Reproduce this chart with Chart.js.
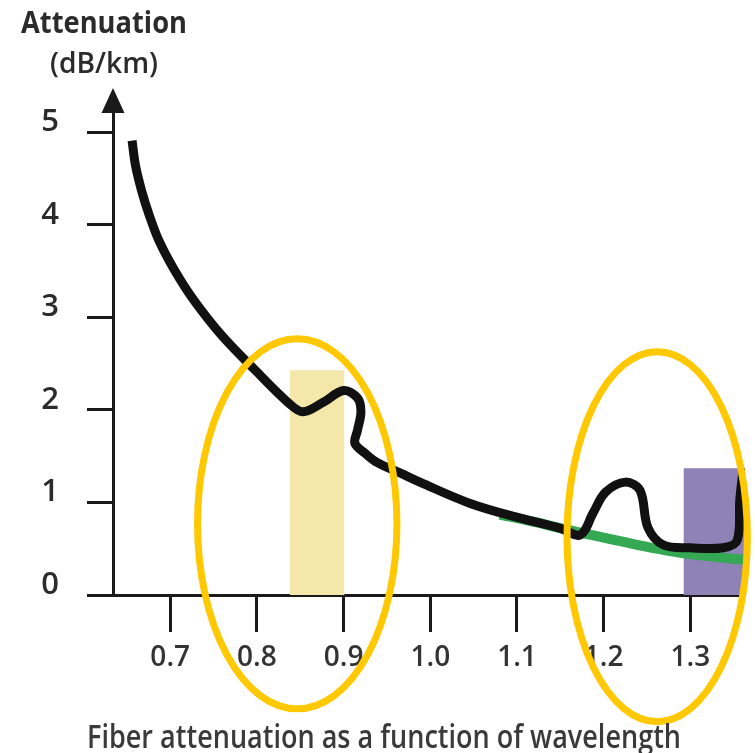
<!DOCTYPE html>
<html lang="en">
<head>
<meta charset="UTF-8">
<title>Fiber attenuation</title>
<script src="https://cdn.jsdelivr.net/npm/chart.js@4.4.1/dist/chart.umd.min.js"></script>
<style>
    html, body { margin: 0; padding: 0; background: #fff; }
    #wrap { width: 755px; height: 753px; position: relative; }
</style>
</head>
<body>
<div id="wrap"><canvas id="chart"></canvas></div>
<script>
// measured fiber curve (black)
const wavelength  = [0.656, 0.660, 0.667, 0.676, 0.687, 0.705, 0.727, 0.759, 0.798, 0.836, 0.853, 0.876, 0.900, 0.916, 0.920, 0.916, 0.913, 0.925, 0.939, 0.965, 0.988, 1.046, 1.104, 1.150, 1.173, 1.188, 1.202, 1.225, 1.242, 1.251, 1.269, 1.300, 1.338, 1.354, 1.357, 1.361];
const attenuation = [4.91, 4.64, 4.37, 4.10, 3.83, 3.51, 3.19, 2.81, 2.43, 2.08, 1.98, 2.08, 2.21, 2.13, 1.98, 1.78, 1.64, 1.53, 1.43, 1.32, 1.22, 0.99, 0.83, 0.72, 0.65, 0.89, 1.11, 1.22, 1.13, 0.73, 0.54, 0.51, 0.51, 0.59, 1.03, 1.37];

// improved fiber curve (green)
const lowWaterWavelength  = [1.08, 1.12, 1.16, 1.20, 1.24, 1.28, 1.32, 1.363];
const lowWaterAttenuation = [0.87, 0.79, 0.70, 0.62, 0.54, 0.47, 0.42, 0.38];

// transmission windows
const bandStart  = [0.838, 1.292];
const bandEnd    = [0.901, 1.363];
const bandHeight = [2.43, 1.37];
const bandColors = ['#f3e7aa', '#8e82b6'];

// highlighted regions (center and radii in data units)
const ringCenterX = [0.8465, 1.2617];
const ringCenterY = [0.77, 0.63];
const ringRadiusX = [0.115, 0.104];
const ringRadiusY = [2.0, 2.0];

const xTicks = [0.7, 0.8, 0.9, 1.0, 1.1, 1.2, 1.3];
const xTickLabels = ['0.7', '0.8', '0.9', '1.0', '1.1', '1.2', '1.3'];
const yTicks = [0, 1, 2, 3, 4, 5];

const FONT = '"Open Sans", "Liberation Sans", sans-serif';

function fitText(ctx, text, cx, baseline, width, font, color) {
    ctx.save();
    ctx.font = font;
    ctx.fillStyle = color;
    ctx.textBaseline = 'alphabetic';
    ctx.textAlign = 'center';
    const w = ctx.measureText(text).width;
    ctx.translate(cx, baseline);
    ctx.scale(width / w, 1);
    ctx.fillText(text, 0, 0);
    ctx.restore();
}

const extras = {
    id: 'extras',
    afterDraw(chart) {
        const { ctx, chartArea, scales: { x, y } } = chart;
        ctx.save();
        // arrow head on the y axis
        ctx.fillStyle = '#1a1a1a';
        ctx.beginPath();
        ctx.moveTo(chartArea.left, 88);
        ctx.lineTo(chartArea.left - 11.5, 113);
        ctx.lineTo(chartArea.left + 11.5, 113);
        ctx.closePath();
        ctx.fill();

        // yellow rings
        ctx.strokeStyle = '#ffc800';
        ctx.lineWidth = 7;
        for (let i = 0; i < ringCenterX.length; i++) {
            const cx = x.getPixelForValue(ringCenterX[i]);
            const cy = y.getPixelForValue(ringCenterY[i]);
            const rx = Math.abs(x.getPixelForValue(ringCenterX[i] + ringRadiusX[i]) - cx);
            const ry = Math.abs(y.getPixelForValue(ringCenterY[i] + ringRadiusY[i]) - cy);
            ctx.beginPath();
            ctx.ellipse(cx, cy, rx, ry, 0, 0, Math.PI * 2);
            ctx.stroke();
        }
        ctx.restore();

        fitText(ctx, 'Attenuation', 104, 33, 166, 'bold 31px ' + FONT, '#2b2b2b');
        fitText(ctx, '(dB/km)', 104, 73, 108, '600 28px ' + FONT, '#2b2b2b');
        fitText(ctx, 'Fiber attenuation as a function of wavelength', 384, 748, 594, '600 32px ' + FONT, '#3a3a3a');
    }
};

const bandSets = bandStart.map((s, i) => ({
    data: [{ x: s, y: bandHeight[i] }, { x: bandEnd[i], y: bandHeight[i] }],
    borderWidth: 0,
    pointRadius: 0,
    fill: 'origin',
    backgroundColor: bandColors[i],
    order: 3
}));

new Chart(document.getElementById('chart'), {
    type: 'line',
    data: {
        datasets: [
            ...bandSets,
            {
                data: lowWaterWavelength.map((v, i) => ({ x: v, y: lowWaterAttenuation[i] })),
                borderColor: '#34a853',
                borderWidth: 10,
                pointRadius: 0,
                tension: 0.4,
                fill: false,
                order: 2
            },
            {
                data: wavelength.map((v, i) => ({ x: v, y: attenuation[i] })),
                borderColor: '#111',
                borderWidth: 9,
                borderCapStyle: 'butt',
                borderJoinStyle: 'round',
                pointRadius: 0,
                tension: 0.35,
                fill: false,
                order: 1
            }
        ]
    },
    options: {
        responsive: true,
        maintainAspectRatio: false,
        animation: false,
        layout: { padding: { top: 100, left: 0, right: 10, bottom: 0 } },
        plugins: {
            legend: { display: false },
            tooltip: { enabled: false }
        },
        scales: {
            x: {
                type: 'linear',
                min: 0.634,
                max: 1.363,
                afterBuildTicks: (s) => { s.ticks = xTicks.map(v => ({ value: v })); },
                afterFit: (s) => { s.height = 158; },
                ticks: {
                    callback: (v) => xTickLabels[xTicks.indexOf(v)],
                    color: '#333',
                    font: { family: FONT, size: 28, weight: '600' },
                    padding: 9,
                    maxRotation: 0
                },
                grid: {
                    drawOnChartArea: false,
                    tickLength: 37,
                    tickWidth: 3,
                    color: '#1a1a1a'
                },
                border: { display: true, color: '#1a1a1a', width: 3 }
            },
            y: {
                min: 0,
                max: 5.35,
                afterBuildTicks: (s) => { s.ticks = yTicks.map(v => ({ value: v })); },
                afterFit: (s) => { s.width = 113; },
                ticks: {
                    color: '#2b2b2b',
                    font: { family: FONT, size: 31, weight: '600' },
                    padding: 28,
                    labelOffset: -10
                },
                grid: {
                    drawOnChartArea: false,
                    tickLength: 26,
                    tickWidth: 3,
                    color: '#1a1a1a'
                },
                border: { display: true, color: '#1a1a1a', width: 3 }
            }
        }
    },
    plugins: [extras]
});
</script>
</body>
</html>
